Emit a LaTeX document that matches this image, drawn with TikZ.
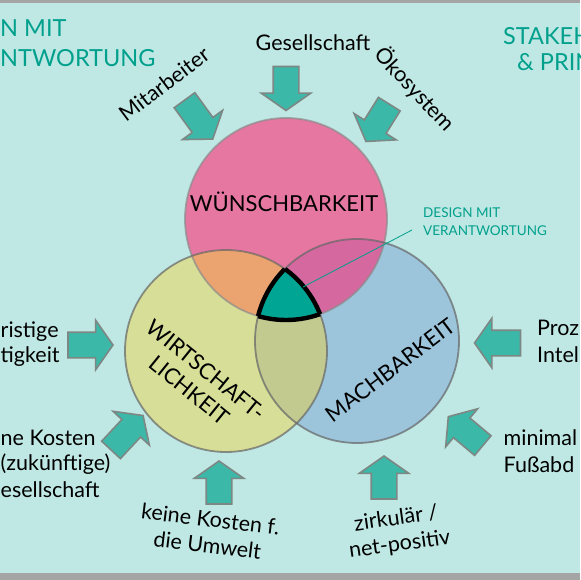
\documentclass[tikz,border=0pt]{standalone}
\usepackage{fontspec}
\setmainfont{Lato}
\usetikzlibrary{shapes.arrows}
\definecolor{bgc}{RGB}{191,232,228}
\definecolor{stripc}{RGB}{165,165,165}
\definecolor{tealtext}{RGB}{0,160,140}
\definecolor{arrowc}{RGB}{60,184,168}
\definecolor{arrowline}{RGB}{125,135,132}
\definecolor{pinkc}{RGB}{229,119,160}
\definecolor{yelc}{RGB}{214,222,151}
\definecolor{bluec}{RGB}{156,197,219}
\definecolor{pyc}{RGB}{235,164,112}
\definecolor{pbc}{RGB}{213,104,158}
\definecolor{ybc}{RGB}{194,202,144}
\definecolor{centerc}{RGB}{0,166,147}
\begin{document}
\begin{tikzpicture}[x=1pt,y=-1pt,
  bigarrow/.style={single arrow, draw=arrowline, line width=1.6pt, fill=arrowc,
    minimum height=45pt, single arrow head extend=12pt,
    inner xsep=0pt, inner ysep=12pt, single arrow tip angle=110},
  lbl/.style={font=\fontsize{21.5}{26}\selectfont, text=black, inner sep=0pt},
  circlbl/.style={font=\fontsize{22}{26}\selectfont, text=black, align=center, inner sep=0pt},
  titletxt/.style={font=\fontsize{23.5}{28}\selectfont, text=tealtext, inner sep=0pt},
  outl/.style={line width=1.8pt, draw=black!60, opacity=0.7}]
\useasboundingbox (0,0) rectangle (580,580);
\fill[bgc] (0,0) rectangle (580,580);
\fill[stripc] (0,0) rectangle (580,3);
\fill[stripc] (0,573) rectangle (580,580);

% circles
\fill[pinkc] (286,219) circle[radius=101pt];
\fill[yelc] (226,351) circle[radius=101pt];
\fill[bluec] (357,341) circle[radius=102pt];
\begin{scope}
  \clip (286,219) circle[radius=101pt];
  \fill[pyc] (226,351) circle[radius=101pt];
  \fill[pbc] (357,341) circle[radius=102pt];
\end{scope}
\begin{scope}
  \clip (226,351) circle[radius=101pt];
  \fill[ybc] (357,341) circle[radius=102pt];
\end{scope}
\begin{scope}
  \clip (286,219) circle[radius=101pt];
  \clip (226,351) circle[radius=101pt];
  \fill[centerc] (357,341) circle[radius=102pt];
\end{scope}
\draw[outl, draw=black!45] (286,219) circle[radius=101pt];
\draw[outl] (226,351) circle[radius=101pt];
\draw[outl] (357,341) circle[radius=102pt];
% centre border
\begin{scope}
  \clip (286,219) circle[radius=101pt];
  \clip (226,351) circle[radius=101pt];
  \draw[line width=4.4pt, black] (357,341) circle[radius=102pt];
\end{scope}
\begin{scope}
  \clip (286,219) circle[radius=101pt];
  \clip (357,341) circle[radius=102pt];
  \draw[line width=4.4pt, black] (226,351) circle[radius=101pt];
\end{scope}
\begin{scope}
  \clip (226,351) circle[radius=101pt];
  \clip (357,341) circle[radius=102pt];
  \draw[line width=4.4pt, black] (286,219) circle[radius=101pt];
\end{scope}

% circle labels
\node[circlbl] (wl) at (284,202) {WÜNSCHBARKEIT};
\node[circlbl, rotate=-39] (yl) at (198,380) {WIRTSCHAFT-\\LICHKEIT};
\node[circlbl, rotate=37] (bl) at (390,370) {MACHBARKEIT};

% design label
\node[font=\fontsize{13.5}{17.5}\selectfont, text=tealtext, align=left, anchor=north west, inner sep=0pt] (dm) at (423,208) {DESIGN MIT\\VERANTWORTUNG};
\coordinate (dmstart) at (412,230);
\coordinate (dmend) at (303,287);
\draw[tealtext, line width=0.8pt] (dmstart) -- (dmend);

% titles
\node[titletxt, anchor=base west] (t1) at (0,37) {N MIT};
\node[titletxt, anchor=base west] (t2) at (0,67) {NTWORTUNG};
\node[titletxt, anchor=base west] (t3) at (503,45) {STAKEH};
\node[titletxt, anchor=base west] (t4) at (517,71) {\& PRIN};

% arrows
\node[bigarrow, rotate=-90, minimum height=44pt] (a1) at (286,84) {};
\node[bigarrow, rotate=-54, minimum height=48pt] (a2) at (196,116) {};
\node[bigarrow, rotate=-122, minimum height=44pt] (a3) at (380,119) {};
\node[bigarrow, rotate=0] (a4) at (86,345) {};
\node[bigarrow, rotate=47, minimum height=47pt] (a5) at (124,436) {};
\node[bigarrow, rotate=180, minimum height=46pt] (a6) at (502,343) {};
\node[bigarrow, rotate=140] (a7) at (469,434) {};
\node[bigarrow, rotate=90, minimum height=43pt] (a8) at (219,487) {};
\node[bigarrow, rotate=90, minimum height=43pt] (a9) at (384,482) {};

% outer labels
\node[lbl] (g) at (313,43) {Gesellschaft};
\node[lbl, rotate=37] (m) at (164,84) {Mitarbeiter};
\node[lbl, rotate=-47] (o) at (415,89) {Ökosystem};
\node[lbl, anchor=base west] (l1) at (0.5,337) {ristige};
\node[lbl, anchor=base west] (l2) at (0.5,362) {tigkeit};
\node[lbl, anchor=base west] (l3) at (0.5,445) {ne Kosten};
\node[lbl, anchor=base west] (l4) at (0.5,470) {(zukünftige)};
\node[lbl, anchor=base west] (l5) at (0.5,497) {esellschaft};
\node[lbl, anchor=base west] (r1) at (537,335) {Proz};
\node[lbl, anchor=base west] (r2) at (537,362) {Intel};
\node[lbl, anchor=base west] (r3) at (503.5,445) {minimal};
\node[lbl, anchor=base west] (r4) at (503.5,472) {Fußabd};
\node[lbl, align=center, rotate=-7] (b1) at (209,532) {keine Kosten f.\\die Umwelt};
\node[lbl, align=center, rotate=8] (b2) at (398,532) {zirkulär /\\net-positiv};
\end{tikzpicture}
\end{document}
